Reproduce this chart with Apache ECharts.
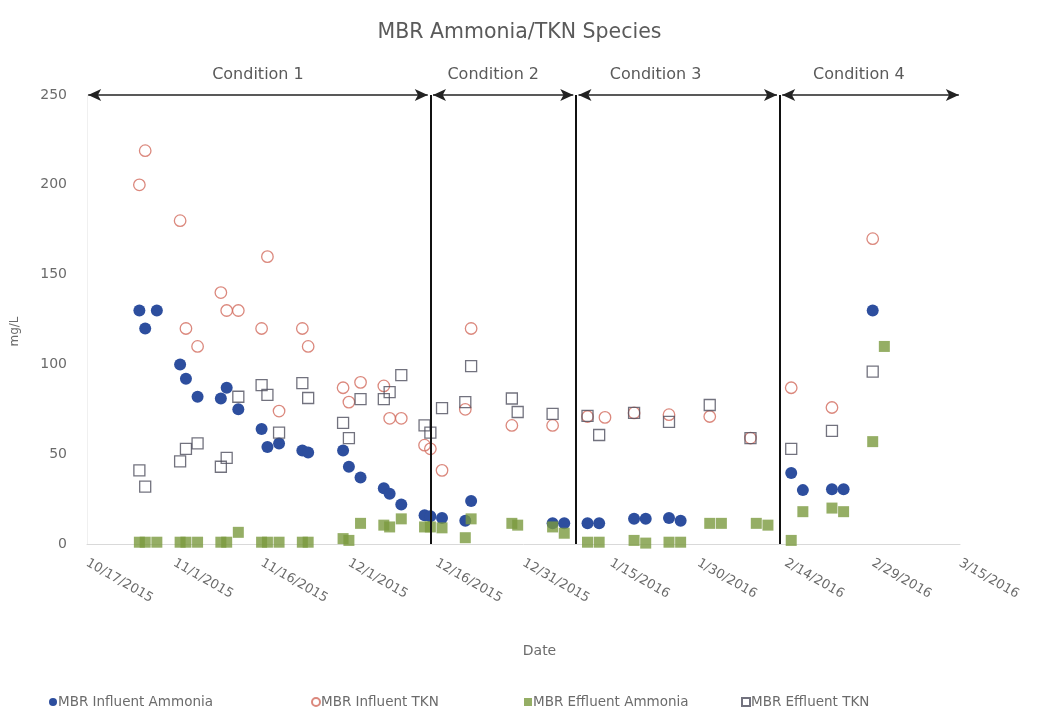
<!DOCTYPE html>
<html>
<head>
<meta charset="utf-8">
<title>MBR Ammonia/TKN Species</title>
<script src="https://cdn.jsdelivr.net/npm/echarts@6/dist/echarts.min.js"></script>
<style>
  html, body { margin: 0; padding: 0; background: #ffffff; }
  #chart { width: 1039px; height: 720px; }
</style>
</head>
<body>
<div id="chart"></div>
<script>
// Sampling dates and concentrations (mg/L)
const influentAmmoniaDates = ['2015-10-26','2015-10-27','2015-10-29','2015-11-02','2015-11-03','2015-11-05','2015-11-09','2015-11-10','2015-11-12','2015-11-16','2015-11-17','2015-11-19','2015-11-23','2015-11-24','2015-11-30','2015-12-01','2015-12-03','2015-12-07','2015-12-08','2015-12-10','2015-12-14','2015-12-15','2015-12-17','2015-12-21','2015-12-22','2016-01-05','2016-01-07','2016-01-11','2016-01-13','2016-01-19','2016-01-21','2016-01-25','2016-01-27','2016-02-15','2016-02-17','2016-02-22','2016-02-24','2016-02-29'];
const influentAmmonia = [130,120,130,100,92,82,81,87,75,64,54,56,52,51,52,43,37,31,28,22,16,15.5,14.5,13,24,11.5,11.5,11.5,11.5,14,14,14.5,13,39.5,30,30.5,30.5,130];

const influentTknDates = ['2015-10-26','2015-10-27','2015-11-02','2015-11-03','2015-11-05','2015-11-09','2015-11-10','2015-11-12','2015-11-16','2015-11-17','2015-11-19','2015-11-23','2015-11-24','2015-11-30','2015-12-01','2015-12-03','2015-12-07','2015-12-08','2015-12-10','2015-12-14','2015-12-15','2015-12-17','2015-12-21','2015-12-22','2015-12-29','2016-01-05','2016-01-11','2016-01-14','2016-01-19','2016-01-25','2016-02-01','2016-02-08','2016-02-15','2016-02-22','2016-02-29'];
const influentTkn = [200,219,180,120,110,140,130,130,120,160,74,120,110,87,79,90,88,70,70,55,53,41,75,120,66,66,71,70.5,73,72,71,59,87,76,170];

const effluentAmmoniaDates = ['2015-10-26','2015-10-27','2015-10-29','2015-11-02','2015-11-03','2015-11-05','2015-11-09','2015-11-10','2015-11-12','2015-11-16','2015-11-17','2015-11-19','2015-11-23','2015-11-24','2015-11-30','2015-12-01','2015-12-03','2015-12-07','2015-12-08','2015-12-10','2015-12-14','2015-12-15','2015-12-17','2015-12-21','2015-12-22','2015-12-29','2015-12-30','2016-01-05','2016-01-07','2016-01-11','2016-01-13','2016-01-19','2016-01-21','2016-01-25','2016-01-27','2016-02-01','2016-02-03','2016-02-09','2016-02-11','2016-02-15','2016-02-17','2016-02-22','2016-02-24','2016-02-29','2016-03-02'];
const effluentAmmonia = [1,1,1,1,1,1,1,1,6.5,1,1,1,1,1,3,2,11.5,10.5,9.5,14,9.5,9.5,9,3.5,14,11.5,10.5,9.5,6,1,1,2,0.5,1,1,11.5,11.5,11.5,10.5,2,18,20,18,57,110];

const effluentTknDates = ['2015-10-26','2015-10-27','2015-11-02','2015-11-03','2015-11-05','2015-11-09','2015-11-10','2015-11-12','2015-11-16','2015-11-17','2015-11-19','2015-11-23','2015-11-24','2015-11-30','2015-12-01','2015-12-03','2015-12-07','2015-12-08','2015-12-10','2015-12-14','2015-12-15','2015-12-17','2015-12-21','2015-12-22','2015-12-29','2015-12-30','2016-01-05','2016-01-11','2016-01-13','2016-01-19','2016-01-25','2016-02-01','2016-02-08','2016-02-15','2016-02-22','2016-02-29'];
const effluentTkn = [41,32,46,53,56,43,48,82,88.5,83,62,89.6,81.3,67.4,59,80.7,80.7,84.6,94,66,62,75.7,79,99,81,73.5,72.4,71.3,60.7,73,68,77.4,59,53,63,96];

// Date axis: 10/17/2015 to 3/15/2016 in 15-day steps
const axisStartDate = '2015-10-17';
const axisEndDate = '2016-03-15';
const dateTickLabels = ['10/17/2015','11/1/2015','11/16/2015','12/1/2015','12/16/2015','12/31/2015','1/15/2016','1/30/2016','2/14/2016','2/29/2016','3/15/2016'];

// Operating conditions and the dates that separate them
const conditionNames = ['Condition 1','Condition 2','Condition 3','Condition 4'];
const conditionBoundaryDates = ['2015-12-15','2016-01-09','2016-02-13'];

const seriesNames = ['MBR Influent Ammonia','MBR Influent TKN','MBR Effluent Ammonia','MBR Effluent TKN'];

const DAY = 86400000;
function dayOffset(d) {
  return (Date.parse(d + 'T00:00:00Z') - Date.parse(axisStartDate + 'T00:00:00Z')) / DAY;
}
function pairs(dates, vals) {
  return dates.map((d, i) => [dayOffset(d), vals[i]]);
}

const xMax = dayOffset(axisEndDate);
const bounds = [0].concat(conditionBoundaryDates.map(dayOffset)).concat([xMax]);
const gap = 0.45;
const arrowLines = [];
const conditionLabels = [];
// label position relative to the middle of its arrow, in days
const labelShift = [0, -1.7, -3.8, -2];
for (let i = 0; i < conditionNames.length; i++) {
  const a = bounds[i] + (i === 0 ? 0.2 : gap);
  const b = bounds[i + 1] - (i === conditionNames.length - 1 ? 0.2 : gap);
  arrowLines.push([{ coord: [a, 250] }, { coord: [b, 250] }]);
  conditionLabels.push({ name: conditionNames[i], coord: [(a + b) / 2 + labelShift[i], 250] });
}

const textColor = '#6b6b6b';
const fontFamily = 'DejaVu Sans, Verdana, sans-serif';

// one legend block per series, laid out along the bottom
const legendLeft = [44, 306, 519, 736];
const legendIcons = ['circle', 'circle', 'rect', 'rect'];
const legends = seriesNames.map((n, i) => ({
  left: legendLeft[i],
  bottom: 6,
  itemWidth: 8,
  itemHeight: 8,
  itemGap: 0,
  selectedMode: false,
  textStyle: { fontSize: 13.5, color: textColor, fontFamily: fontFamily, padding: [0, 0, 0, -4] },
  data: [{ name: n, icon: legendIcons[i] }]
}));

const chart = echarts.init(document.getElementById('chart'));
chart.setOption({
  animation: false,
  backgroundColor: '#ffffff',
  textStyle: { fontFamily: fontFamily },
  title: {
    text: 'MBR Ammonia/TKN Species',
    left: 'center',
    top: 17,
    textStyle: { fontSize: 20.5, fontWeight: 'normal', color: '#5a5a5a', fontFamily: fontFamily }
  },
  grid: { left: 87, right: 79, top: 95, bottom: 176, containLabel: false },
  legend: legends,
  xAxis: {
    type: 'value',
    min: 0,
    max: xMax,
    interval: 15,
    name: 'Date',
    nameLocation: 'middle',
    nameGap: 100,
    nameTextStyle: { fontSize: 14, color: textColor, padding: [0, 0, 0, 32] },
    axisLine: { show: true, lineStyle: { color: '#d9d9d9', width: 1 } },
    axisTick: { show: false },
    splitLine: { show: false },
    axisLabel: {
      rotate: -30,
      fontSize: 13,
      color: textColor,
      margin: 18,
      formatter: v => dateTickLabels[Math.round(v / 15)] || ''
    }
  },
  yAxis: {
    type: 'value',
    min: 0,
    max: 250,
    interval: 50,
    name: 'mg/L',
    nameLocation: 'middle',
    nameGap: 66,
    nameTextStyle: { fontSize: 12, color: textColor, padding: [0, 24, 0, 0] },
    axisLine: { show: true, lineStyle: { color: '#f0f0f0' } },
    axisTick: { show: false },
    splitLine: { show: false },
    axisLabel: { fontSize: 14, color: textColor, margin: 20 }
  },
  series: [
    {
      name: seriesNames[0],
      type: 'scatter',
      symbol: 'circle',
      symbolSize: 12,
      itemStyle: { color: '#2d4e9e', opacity: 1 },
      data: pairs(influentAmmoniaDates, influentAmmonia)
    },
    {
      name: seriesNames[1],
      type: 'scatter',
      symbol: 'circle',
      symbolSize: 11.5,
      itemStyle: { color: 'rgba(255,255,255,0)', borderColor: '#d26a5c', borderWidth: 1.3 },
      data: pairs(influentTknDates, influentTkn)
    },
    {
      name: seriesNames[2],
      type: 'scatter',
      symbol: 'rect',
      symbolSize: 11,
      itemStyle: { color: '#7b9a3e' },
      data: pairs(effluentAmmoniaDates, effluentAmmonia)
    },
    {
      name: seriesNames[3],
      type: 'scatter',
      symbol: 'rect',
      symbolSize: 11,
      itemStyle: { color: 'rgba(255,255,255,0)', borderColor: '#4f4f5e', borderWidth: 1.3 },
      data: pairs(effluentTknDates, effluentTkn)
    },
    {
      // condition boundary lines
      name: 'boundaries',
      type: 'scatter',
      data: [],
      silent: true,
      markLine: {
        silent: true,
        symbol: ['none', 'none'],
        label: { show: false },
        lineStyle: { color: '#111111', width: 2, type: 'solid' },
        data: conditionBoundaryDates.map(d => ({ xAxis: dayOffset(d) }))
      }
    },
    {
      // double-headed arrows spanning each condition, with their names
      name: 'conditions',
      type: 'scatter',
      data: [],
      silent: true,
      markLine: {
        silent: true,
        symbol: ['arrow', 'arrow'],
        symbolSize: [9, 13],
        label: { show: false },
        lineStyle: { color: '#222222', width: 1.5, type: 'solid' },
        itemStyle: { color: '#222222' },
        data: arrowLines
      },
      markPoint: {
        silent: true,
        symbol: 'circle',
        symbolSize: 1,
        itemStyle: { color: 'rgba(0,0,0,0)' },
        label: {
          show: true,
          position: 'top',
          distance: 12,
          fontSize: 16,
          color: '#5a5a5a',
          fontFamily: fontFamily,
          formatter: p => p.name
        },
        data: conditionLabels
      }
    }
  ]
});
</script>
</body>
</html>
